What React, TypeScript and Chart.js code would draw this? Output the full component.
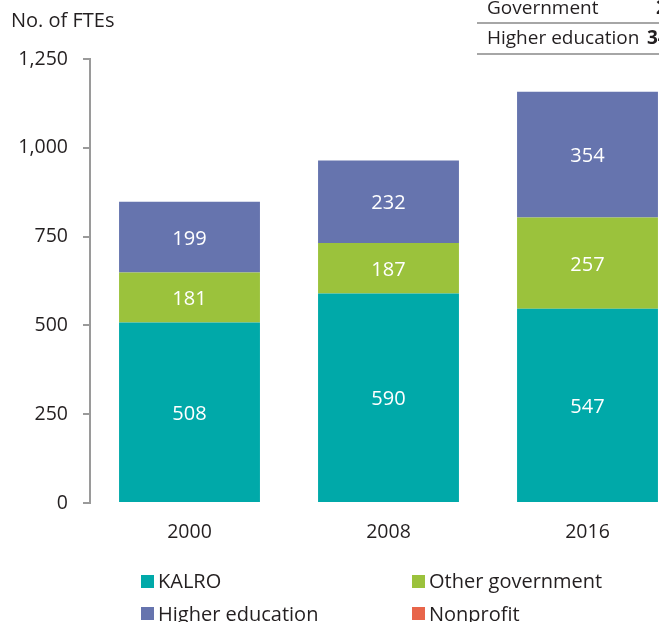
import React, { useEffect, useRef } from "react";
import { Chart, registerables } from "chart.js";

Chart.register(...registerables);

const years = ["2000", "2008", "2016"];
const kalro = [508, 590, 547];
const otherGovernment = [141, 142, 257];
const otherGovernmentLabels = ["181", "187", "257"];
const higherEducation = [199, 232, 354];
const nonprofit = [0, 0, 0];
const seriesNames = ["KALRO", "Other government", "Higher education", "Nonprofit"];
const seriesColors = ["#00a9a9", "#9bc23c", "#6674ae", "#e8654a"];
const yMin = 0;
const yMax = 1250;
const yStep = 250;
const yTitle = "No. of FTEs";
const tableRows = ["Government", "Higher education"];
const tableValues = ["2", "34"];

const FONT = "'Open Sans', 'Noto Sans', sans-serif";
const TEXT = "#231f20";

export default function App() {
  const ref = useRef<HTMLCanvasElement | null>(null);

  useEffect(() => {
    if (!ref.current) return;
    const labelsBySeries = [
      kalro.map(String),
      otherGovernmentLabels,
      higherEducation.map(String),
      nonprofit.map(String),
    ];
    const valueLabels = {
      id: "valueLabels",
      afterDatasetsDraw(chart: any) {
        const ctx = chart.ctx;
        ctx.save();
        ctx.fillStyle = "#ffffff";
        ctx.font = `20px ${FONT}`;
        ctx.textAlign = "center";
        ctx.textBaseline = "middle";
        chart.data.datasets.forEach((ds: any, i: number) => {
          const meta = chart.getDatasetMeta(i);
          meta.data.forEach((bar: any, j: number) => {
            if (!ds.data[j]) return;
            const p = bar.getProps(["x", "y", "base"], true);
            ctx.fillText(labelsBySeries[i][j], p.x, (p.y + p.base) / 2 + 2);
          });
        });
        ctx.restore();
      },
    };
    const data = [kalro, otherGovernment, higherEducation, nonprofit];
    const chart = new Chart(ref.current, {
      type: "bar",
      data: {
        labels: years,
        datasets: data.map((d, i) => ({
          label: seriesNames[i],
          data: d,
          backgroundColor: seriesColors[i],
          borderWidth: 0,
          barPercentage: 1,
          categoryPercentage: 0.708,
        })),
      },
      options: {
        responsive: false,
        animation: false,
        layout: { padding: { top: 59, left: 0, right: 0, bottom: 0 } },
        plugins: { legend: { display: false }, tooltip: { enabled: false } },
        scales: {
          x: {
            stacked: true,
            grid: { display: false },
            border: { display: false },
            ticks: { color: TEXT, font: { family: FONT, size: 19.5 }, padding: 10 },
            afterFit: (s: any) => {
              s.height = 119;
            },
          },
          y: {
            stacked: true,
            min: yMin,
            max: yMax,
            ticks: {
              stepSize: yStep,
              color: TEXT,
              font: { family: FONT, size: 19.5 },
              padding: 15,
              callback: (v: any) => Number(v).toLocaleString("en-US"),
            },
            grid: {
              display: true,
              drawOnChartArea: false,
              drawTicks: true,
              tickLength: 7,
              color: "#9a9a9a",
              lineWidth: 2,
            },
            border: { display: true, color: "#9a9a9a", width: 2 },
            afterFit: (s: any) => {
              s.width = 90;
            },
          },
        },
      },
      plugins: [valueLabels],
    });
    return () => chart.destroy();
  }, []);

  return (
    <div
      style={{
        position: "fixed",
        left: 0,
        top: 0,
        width: 659,
        height: 622,
        overflow: "hidden",
        background: "#fff",
        fontFamily: FONT,
        color: TEXT,
      }}
    >
      <canvas ref={ref} width={687} height={622} style={{ position: "absolute", left: 0, top: 0, width: 687, height: 622 }} />
      <div style={{ position: "absolute", left: 11, top: 10, fontSize: 20, lineHeight: "20px", whiteSpace: "nowrap" }}>{yTitle}</div>
      {tableRows.map((r, i) => (
        <React.Fragment key={r}>
          <div style={{ position: "absolute", left: 487, top: -2 + i * 30, fontSize: 19, lineHeight: "19px", whiteSpace: "nowrap" }}>{r}</div>
          <div style={{ position: "absolute", left: i === 0 ? 656 : 647, top: -2 + i * 30, fontSize: 19, lineHeight: "19px", fontWeight: 700, whiteSpace: "nowrap" }}>
            {tableValues[i]}
          </div>
          <div style={{ position: "absolute", left: 477, top: 22 + i * 31, width: 200, height: 2, background: "#a6a6a6" }} />
        </React.Fragment>
      ))}
      {seriesNames.map((n, i) => {
        const col = i % 2;
        const row = i < 2 ? 0 : 1;
        const left = col === 0 ? 141 : 412;
        const center = row === 0 ? 581 : 613.5;
        return (
          <div key={n} style={{ position: "absolute", left, top: center - 12, display: "flex", alignItems: "center", whiteSpace: "nowrap", fontSize: 20, lineHeight: "24px", height: 24 }}>
            <span style={{ display: "inline-block", width: 13, height: 13, background: seriesColors[i], marginRight: 4 }} />
            <span>{n}</span>
          </div>
        );
      })}
    </div>
  );
}
